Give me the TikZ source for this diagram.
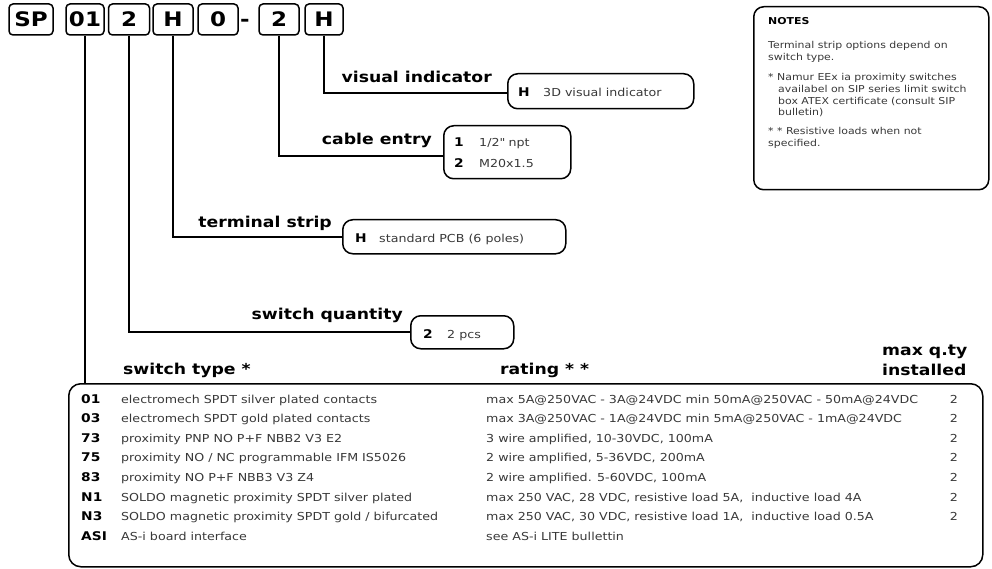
\documentclass[tikz,border=0pt]{standalone}
\usepackage{fontspec}
\setmainfont{DejaVu Sans}[FakeStretch=1.15]
\usetikzlibrary{positioning}

\tikzset{
	codebox/.style={draw, line width=1.5pt, rounded corners=4pt, minimum height=31pt, inner sep=0pt, font=\bfseries\fontsize{20}{20}\selectfont},
	optbox/.style={draw, line width=1.5pt, rounded corners=10pt, anchor=north west, inner sep=0pt},
	lead/.style={line width=1.8pt},
	lbl/.style={anchor=base east, inner sep=0pt, font=\bfseries\fontsize{15}{15}\selectfont},
	hdr/.style={anchor=base west, inner sep=0pt, font=\bfseries\fontsize{15}{15}\selectfont},
	key/.style={anchor=base west, inner sep=0pt, font=\bfseries\fontsize{12}{12}\selectfont},
	txt/.style={anchor=base west, inner sep=0pt, text=black!78, font=\fontsize{11}{11}\selectfont},
	note/.style={anchor=base west, inner sep=0pt, text=black!78, font=\fontsize{9.5}{9.5}\selectfont}
}

\begin{document}
\begin{tikzpicture}[x=1pt,y=-1pt]
	\useasboundingbox (0,0) rectangle (992,569);

	% order code
	\node[codebox, minimum width=44pt] (sp) at (31,19.5) {SP};
	\node[codebox, minimum width=38pt] (stype) at (85,19.5) {01};
	\node[codebox, minimum width=41pt] (sqty) at (129,19.5) {2};
	\node[codebox, minimum width=40pt] (tstrip) at (173,19.5) {H};
	\node[codebox, minimum width=40pt] (zero) at (218,19.5) {0};
	\node[anchor=base, font=\bfseries\fontsize{20}{20}\selectfont] (dash) at (245,27) {-};
	\node[codebox, minimum width=40pt] (centry) at (279,19.5) {2};
	\node[codebox, minimum width=38pt] (vind) at (324,19.5) {H};

	% visual indicator
	\node[optbox, minimum width=186pt, minimum height=35pt] (visbox) at (507,73) {};
	\node[lbl] at (492,83) {visual indicator};
	\node[key] at (518,97) {H};
	\node[txt] at (543,97) {3D visual indicator};
	\draw[lead] (vind.south) |- ([yshift=-1.5pt]visbox.west);

	% cable entry
	\node[optbox, minimum width=127pt, minimum height=53pt] (cablebox) at (443,125) {};
	\node[lbl] at (432,145) {cable entry};
	\node[key] at (454,147) {1};
	\node[txt] at (479,147) {1/2\textquotedbl{} npt};
	\node[key] at (454,168) {2};
	\node[txt] at (479,168) {M20x1.5};
	\draw[lead] (centry.south) |- ([yshift=-3.5pt]cablebox.west);

	% terminal strip
	\node[optbox, minimum width=223pt, minimum height=34pt] (stripbox) at (342,219) {};
	\node[lbl] at (332,228) {terminal strip};
	\node[key] at (355,243) {H};
	\node[txt] at (379,243) {standard PCB (6 poles)};
	\draw[lead] (tstrip.south) |- (stripbox.west);

	% switch quantity
	\node[optbox, minimum width=103pt, minimum height=33pt] (qtybox) at (410,315) {};
	\node[lbl] at (403,319) {switch quantity};
	\node[key] at (423,338) {2};
	\node[txt] at (447,338) {2 pcs};
	\draw[lead] (sqty.south) |- (qtybox.west);

	% switch type table
	\node[optbox, rounded corners=12pt, minimum width=914pt, minimum height=183pt] (tbl) at (68,383) {};
	\draw[lead] (stype.south) -- (stype.south |- tbl.north);
	\node[hdr] at (123,374) {switch type *};
	\node[hdr] at (500,374) {rating * *};
	\node[hdr] at (882,355) {max q.ty};
	\node[hdr] at (882,375) {installed};

	\foreach \code/\desc/\rate/\qty [count=\i from 0] in {
		01/{electromech SPDT silver plated contacts}/{max 5A@250VAC - 3A@24VDC min 50mA@250VAC - 50mA@24VDC}/2,
		03/{electromech SPDT gold plated contacts}/{max 3A@250VAC - 1A@24VDC min 5mA@250VAC - 1mA@24VDC}/2,
		73/{proximity PNP NO P+F NBB2 V3 E2}/{3 wire amplified, 10-30VDC, 100mA}/2,
		75/{proximity NO / NC programmable IFM IS5026}/{2 wire amplified, 5-36VDC, 200mA}/2,
		83/{proximity NO P+F NBB3 V3 Z4}/{2 wire amplified. 5-60VDC, 100mA}/2,
		N1/{SOLDO magnetic proximity SPDT silver plated}/{max 250 VAC, 28 VDC, resistive load 5A,\ \ inductive load 4A}/2,
		N3/{SOLDO magnetic proximity SPDT gold / bifurcated}/{max 250 VAC, 30 VDC, resistive load 1A,\ \ inductive load 0.5A}/2,
		ASI/{AS-i board interface}/{see AS-i LITE bullettin}/{}} {
		\node[key] at (81,403+19.6*\i) {\code};
		\node[txt] at (121,403+19.6*\i) {\desc};
		\node[txt] at (486,403+19.6*\i) {\rate};
		\node[txt, anchor=base] at (954,403+19.6*\i) {\qty};
	}

	% notes
	\node[optbox, minimum width=235pt, minimum height=183pt] (notes) at (753,6) {};
	\node[note, font=\bfseries\fontsize{9.5}{9.5}\selectfont, text=black] at (768,25) {NOTES};
	\node[note] at (768,49) {Terminal strip options depend on};
	\node[note] at (768,61) {switch type.};
	\node[note] at (768,81) {* Namur EEx ia proximity switches};
	\node[note] at (778,93) {availabel on SIP series limit switch};
	\node[note] at (778,104.5) {box ATEX certificate (consult SIP};
	\node[note] at (778,116) {bulletin)};
	\node[note] at (768,135) {* * Resistive loads when not};
	\node[note] at (768,147) {specified.};
\end{tikzpicture}
\end{document}
